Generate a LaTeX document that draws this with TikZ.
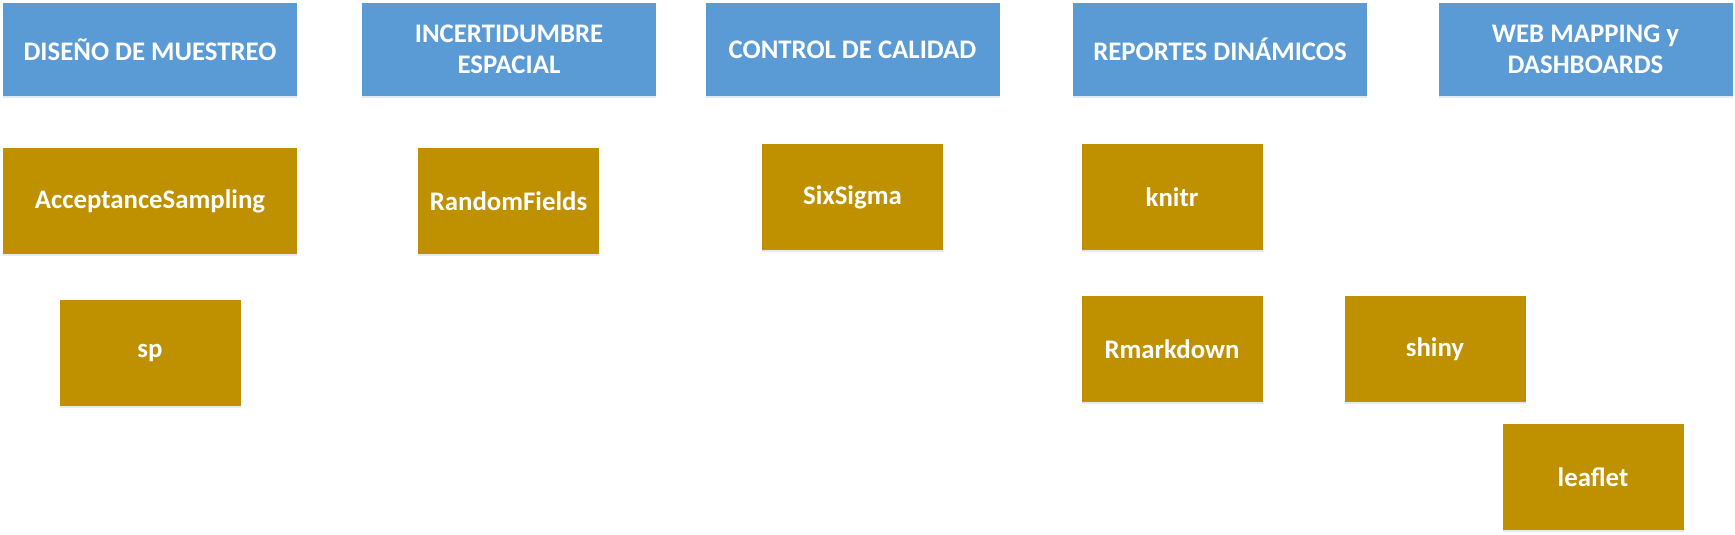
\documentclass[tikz,border=0pt]{standalone}
\usepackage{fontspec}
\setmainfont{Carlito}
\usepackage{xcolor}
\usepackage{tikz}
\usetikzlibrary{positioning, shadows}
\definecolor{areablue}{HTML}{5B9BD5}
\definecolor{pkggold}{HTML}{BF9000}
\tikzset{
  area/.style={rectangle, fill=areablue, text=white, align=center,
               minimum width=147pt, minimum height=46.5pt, inner sep=0pt,
               font=\bfseries\fontsize{13.4}{15.5}\selectfont,
               drop shadow={shadow xshift=0pt, shadow yshift=-1.2pt, opacity=0.18, fill=areablue!60!gray}},
  pkg/.style={rectangle, fill=pkggold, text=white, align=center,
              minimum width=90.5pt, minimum height=53pt, inner sep=0pt,
              font=\bfseries\fontsize{13.4}{15.5}\selectfont,
              drop shadow={shadow xshift=0pt, shadow yshift=-1.2pt, opacity=0.18, fill=areablue!60!gray}},
}

\begin{document}
\begin{tikzpicture}[x=0.5pt, y=-0.5pt,
  pkgwide/.style={pkg, minimum width=147pt}]

  %% === Use absolute coordinates for clean layout ===
  \useasboundingbox[fill=white] (0, 0) rectangle (1735, 535);

  % Row 1: Areas
  \node[area] at (150, 49.5) (disenio) {DISEÑO DE MUESTREO};
  \node[area] at (509, 49.5) (incert) {INCERTIDUMBRE\\ESPACIAL};
  \node[area] at (852.5, 49.5) (control) {CONTROL DE CALIDAD};
  \node[area] at (1220, 49.5) (reportes) {REPORTES DINÁMICOS};
  \node[area] at (1585.5, 49.5) (webmap) {WEB MAPPING y\\DASHBOARDS};

  % Row 2: First packages
  \node[pkgwide] at (150, 201) (accsamp) {AcceptanceSampling};
  \node[pkg] at (508.5, 201) (randfields) {RandomFields};
  \node[pkg] at (852.5, 197) (sixsigma) {SixSigma};
  \node[pkg] at (1172, 197) (knitr) {knitr};

  % Row 3: Second packages
  \node[pkg] at (150, 352.5) (sp) {sp};
  \node[pkg] at (1172, 349) (rmarkdown) {Rmarkdown};
  \node[pkg] at (1435, 349) (shiny) {shiny};

  % Row 4
  \node[pkg] at (1593, 477) (leaflet) {leaflet};

\end{tikzpicture}
\end{document}
